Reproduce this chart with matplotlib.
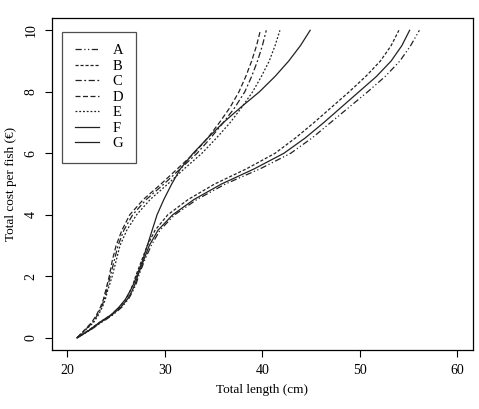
import matplotlib
matplotlib.use("Agg")
import matplotlib.pyplot as plt

plt.rcParams["font.family"] = ["Liberation Serif", "DejaVu Serif"]

# cost levels (y) shared by all curves, lengths (x) read per curve
cost = [0, 0.25, 0.5, 0.75, 1, 1.25, 1.5, 1.75, 2, 2.5, 3, 3.5, 4, 4.5, 5,
        5.5, 6, 6.5, 7, 7.5, 8, 8.5, 9, 9.5, 10]

len_A = [21, 22.35, 23.5, 24.7, 25.6, 26.25, 26.7, 27.05, 27.3, 27.9, 28.6, 29.5, 31.0,
         33.3, 36.2, 39.8, 42.9, 45.1, 47.0, 48.9, 50.8, 52.6, 54.1, 55.2, 56.1]
len_B = [21, 22.2, 23.3, 24.5, 25.4, 26.0, 26.4, 26.75, 27.0, 27.6, 28.2, 29.0, 30.3,
         32.4, 35.1, 38.4, 41.3, 43.4, 45.3, 47.1, 48.9, 50.6, 52.1, 53.2, 54.0]
len_F = [21, 22.3, 23.4, 24.6, 25.5, 26.15, 26.6, 26.95, 27.2, 27.8, 28.4, 29.3, 30.8,
         33.0, 35.8, 39.2, 42.2, 44.4, 46.3, 48.1, 49.9, 51.7, 53.2, 54.3, 55.1]

len_C = [21, 21.8, 22.6, 23.1, 23.5, 23.8, 24.0, 24.2, 24.4, 24.8, 25.2, 25.8, 26.7,
         28.1, 29.9, 31.6, 33.3, 34.7, 36.0, 37.2, 38.2, 38.9, 39.5, 40.0, 40.4]
len_D = [21, 21.75, 22.5, 23.0, 23.4, 23.7, 23.9, 24.1, 24.3, 24.6, 25.0, 25.6, 26.4,
         27.8, 29.6, 31.3, 33.0, 34.4, 35.6, 36.7, 37.6, 38.3, 38.9, 39.4, 39.8]
len_E = [21, 21.85, 22.7, 23.2, 23.6, 23.9, 24.1, 24.35, 24.6, 25.0, 25.4, 26.1, 27.1,
         28.5, 30.3, 32.0, 33.8, 35.3, 36.7, 37.9, 39.0, 39.9, 40.7, 41.3, 41.8]

len_G = [21, 22.25, 23.3, 24.5, 25.3, 25.95, 26.4, 26.8, 27.1, 27.7, 28.2, 28.7, 29.2,
         29.9, 30.7, 31.6, 32.9, 34.4, 36.0, 37.8, 39.7, 41.3, 42.7, 43.9, 44.9]

labels = ["A", "B", "C", "D", "E", "F", "G"]
series = [len_A, len_B, len_C, len_D, len_E, len_F, len_G]
styles = [(0, (5, 2, 1, 2, 1, 2)), (0, (2.5, 1.5)), (0, (5, 2, 1.5, 2)),
          (0, (4, 2)), (0, (1.5, 1.5)), "-", "-"]

fig = plt.figure(figsize=(4.79, 4.09), dpi=100)
ax = fig.add_axes([0.108, 0.144, 0.8795, 0.812])

for lab, xs, ls in zip(labels, series, styles):
    ax.plot(xs, cost, color="#222222", lw=0.9, linestyle=ls, label=lab)

ax.set_xlim(18.4, 61.6)
ax.set_ylim(-0.4, 10.4)
ax.set_xticks([20, 30, 40, 50, 60])
ax.set_yticks([0, 2, 4, 6, 8, 10])
ax.tick_params(direction="out", length=5, width=0.8, labelsize=10, pad=5)
for t in ax.get_yticklabels():
    t.set_rotation(90)
    t.set_va("center")
for sp in ax.spines.values():
    sp.set_linewidth(0.9)

ax.set_xlabel("Total length (cm)", fontsize=9.5, labelpad=5)
ax.set_ylabel("Total cost per fish (€)", fontsize=9.5, labelpad=6)

leg = ax.legend(loc="upper left", bbox_to_anchor=(0.025, 0.959), borderaxespad=0,
                fontsize=10.5, handlelength=1.7, handletextpad=0.9, labelspacing=0.16,
                borderpad=0.85, fancybox=False, frameon=True)
leg.get_frame().set_edgecolor("#222222")
leg.get_frame().set_linewidth(0.9)

fig.savefig("out.png", dpi=100)
